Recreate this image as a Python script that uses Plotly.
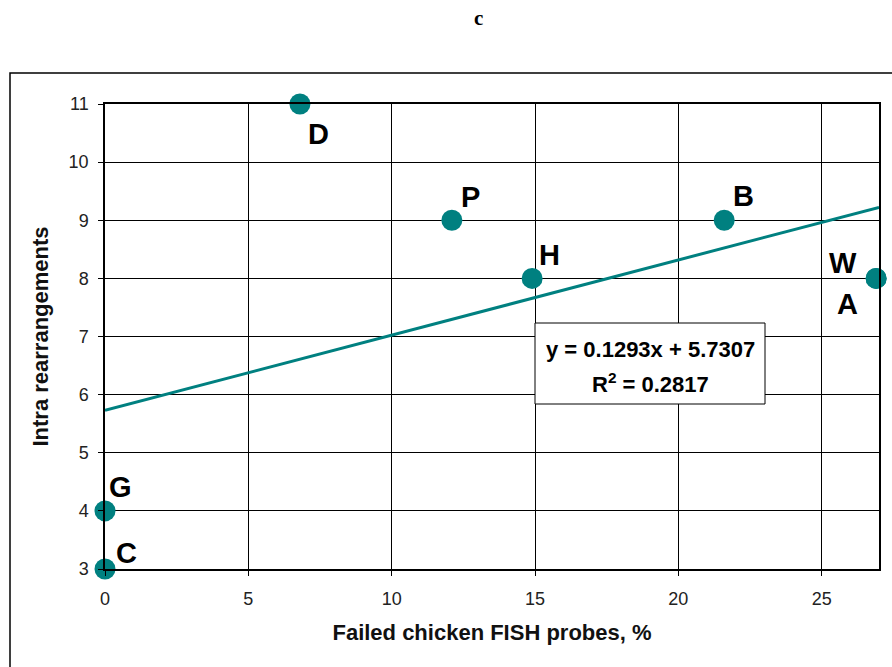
import plotly.graph_objects as go

# Data
labels = ["D", "P", "B", "H", "W", "A", "G", "C"]
failed_pct = [6.8, 12.1, 21.6, 14.9, 26.9, 26.9, 0.0, 0.0]
intra = [11, 9, 9, 8, 8, 8, 4, 3]
slope = 0.1293
intercept = 5.7307
r2 = 0.2817
x_ticks = [0, 5, 10, 15, 20, 25]
y_ticks = [3, 4, 5, 6, 7, 8, 9, 10, 11]

TEAL = "#008080"
FONT = "Arial, Liberation Sans, sans-serif"

fig = go.Figure()

trend_x = [0, 27]
trend_y = [slope * v + intercept for v in trend_x]
fig.add_trace(go.Scatter(x=trend_x, y=trend_y, mode="lines",
                         line=dict(color=TEAL, width=3), hoverinfo="skip",
                         showlegend=False))

fig.add_trace(go.Scatter(x=failed_pct, y=intra, mode="markers",
                         marker=dict(color=TEAL, size=21),
                         cliponaxis=False, showlegend=False))

# label offsets (pixels)
offsets = {"D": (19, -30), "P": (19, 23), "B": (19, 24), "H": (17, 23),
           "W": (-33, 15), "A": (-29, -26), "G": (15, 24), "C": (21, 16)}
for lab, xv, yv in zip(labels, failed_pct, intra):
    dx, dy = offsets[lab]
    fig.add_annotation(x=xv, y=yv, text=f"<b>{lab}</b>", showarrow=False,
                       xshift=dx, yshift=dy,
                       font=dict(family=FONT, size=29, color="black"))

PL, PT, PW, PH = 105, 104, 774, 465

def px(x):
    return (x - PL) / PW

def py(y):
    return (PT + PH - y) / PH

# equation box
fig.add_shape(type="rect", xref="paper", yref="paper",
              x0=px(535), x1=px(765), y0=py(404), y1=py(323),
              fillcolor="white", line=dict(color="black", width=1), layer="above")
fig.add_annotation(x=px(650), y=py(349), xref="paper", yref="paper",
                   xanchor="center", yanchor="middle",
                   text=f"<b>y = {slope}x + {intercept}</b>",
                   showarrow=False, font=dict(family=FONT, size=22, color="black"))
fig.add_annotation(x=px(650), y=py(383), xref="paper", yref="paper",
                   xanchor="center", yanchor="middle",
                   text=f"<b>R<sup>2</sup> = {r2}</b>",
                   showarrow=False, font=dict(family=FONT, size=22, color="black"))

# title
fig.add_annotation(x=px(478), y=py(18), xref="paper", yref="paper",
                   xanchor="center", yanchor="middle",
                   text="<b>c</b>", showarrow=False,
                   font=dict(family="Times New Roman, Liberation Serif, serif", size=21, color="black"))

# outer border
fig.add_shape(type="rect", xref="paper", yref="paper",
              x0=px(10), x1=1.2, y0=-0.4, y1=py(73),
              line=dict(color="black", width=1.5), layer="below")

fig.update_layout(
    width=892, height=667,
    margin=dict(l=PL, r=892 - PL - PW, t=PT, b=667 - PT - PH),
    plot_bgcolor="white", paper_bgcolor="white",
    font=dict(family=FONT, color="#222"),
    xaxis=dict(range=[0, 27], tickvals=x_ticks, showgrid=True, gridcolor="black",
               gridwidth=1, zeroline=False, showline=True, linecolor="black",
               linewidth=1.5, mirror=True, ticks="outside", ticklen=5,
               ticklabelstandoff=8,
               tickcolor="black", tickfont=dict(size=18, family=FONT, color="#222"),
               title=dict(text="<b>Failed chicken FISH probes, %</b>", standoff=16,
                          font=dict(size=22, family=FONT, color="#111"))),
    yaxis=dict(range=[3, 11], tickvals=y_ticks, showgrid=True, gridcolor="black",
               gridwidth=1, zeroline=False, showline=True, linecolor="black",
               linewidth=1.5, mirror=True, ticks="outside", ticklen=5,
               ticklabelstandoff=6,
               tickcolor="black", tickfont=dict(size=18, family=FONT, color="#222"),
               title=dict(text="<b>Intra rearrangements</b>", standoff=14,
                          font=dict(size=22, family=FONT, color="#111"))),
)

fig.write_html("out.html", config={"displayModeBar": False},
               post_script="document.body.style.margin='0';document.body.style.overflow='hidden';")
